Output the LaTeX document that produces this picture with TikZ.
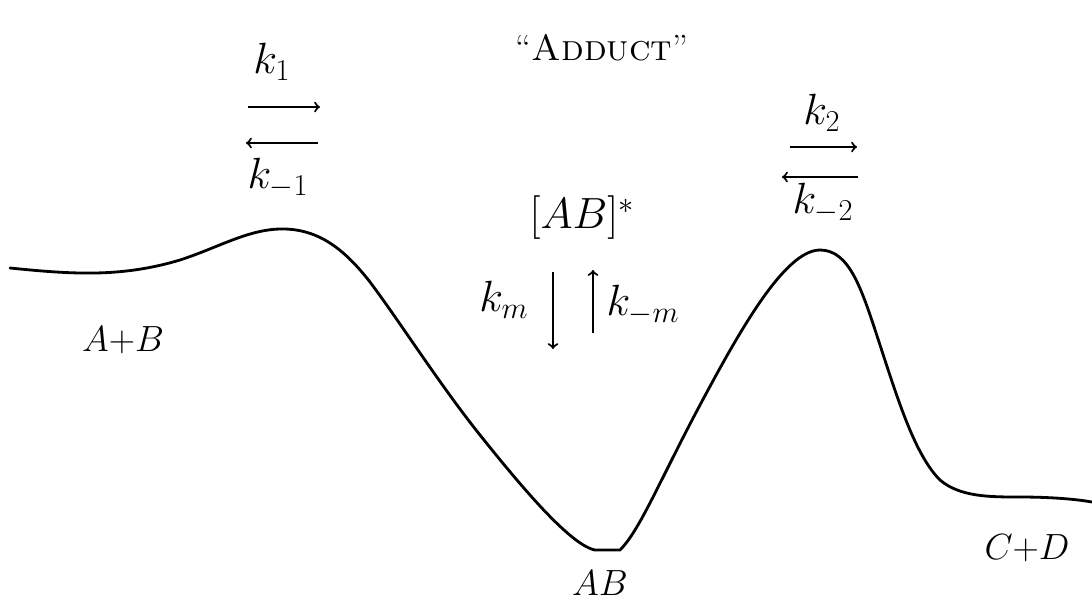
\documentclass[tikz,border=0pt]{standalone}
\begin{document}
\begin{tikzpicture}[x=0.02cm,y=-0.02cm,
    lbl/.style={font=\huge},
    rate/.style={font=\fontsize{24}{29}\selectfont},
    rxn/.style={->,line width=1.2pt},
    profile/.style={line width=1.6pt,line join=round,line cap=round}]
    \useasboundingbox (0,0) rectangle (1092,600);
    \draw [profile] (10,268) .. controls (70,274) and (120,278) .. (180,260)
      .. controls (220,247) and (250,228) .. (285,229)
      .. controls (320,230) and (345,250) .. (370,282)
      .. controls (400,322) and (440,385) .. (480,435)
      .. controls (520,485) and (570,545) .. (595,550)
      -- (620,550)
      .. controls (640,530) and (660,480) .. (700,405)
      .. controls (740,330) and (785,250) .. (820,250)
      .. controls (850,250) and (862,290) .. (880,345)
      .. controls (898,400) and (915,455) .. (940,480)
      .. controls (960,497) and (990,497) .. (1020,497)
      .. controls (1050,497) and (1075,499) .. (1092,502);
    \node [lbl] (reac) at (123,340) {$A{+}B$};
    \node [lbl] (prod) at (1027,548) {$C{+}D$};
    \node [lbl] (inter) at (600,583) {$AB$};
    \node [rate] (cplx) at (582,218) {$[AB]^*$};
    \node [lbl] (title) at (602,48) {``\textsc{Adduct}''};
    \node [rate] (k1) at (272,62) {$k_1$};
    \node [rate] (km1) at (278,178) {$k_{-1}$};
    \node [rate] (k2) at (822,113) {$k_2$};
    \node [rate] (km2) at (823,203) {$k_{-2}$};
    \node [rate] (km) at (504,300) {$k_m$};
    \node [rate] (kmm) at (643,305) {$k_{-m}$};
      \coordinate (f1a) at (248,107);
      \coordinate (f1b) at (320,107);
      \coordinate (r1a) at (318,143);
      \coordinate (r1b) at (246,143);
      \coordinate (f2a) at (790,147);
      \coordinate (f2b) at (857,147);
      \coordinate (r2a) at (858,177);
      \coordinate (r2b) at (782,177);
      \coordinate (fma) at (553,272);
      \coordinate (fmb) at (553,349);
      \coordinate (rma) at (593,333);
      \coordinate (rmb) at (593,270);
    \draw [rxn] (f1a) -- (f1b);
    \draw [rxn] (r1a) -- (r1b);
    \draw [rxn] (f2a) -- (f2b);
    \draw [rxn] (r2a) -- (r2b);
    \draw [rxn] (fma) -- (fmb);
    \draw [rxn] (rma) -- (rmb);
\end{tikzpicture}
\end{document}
